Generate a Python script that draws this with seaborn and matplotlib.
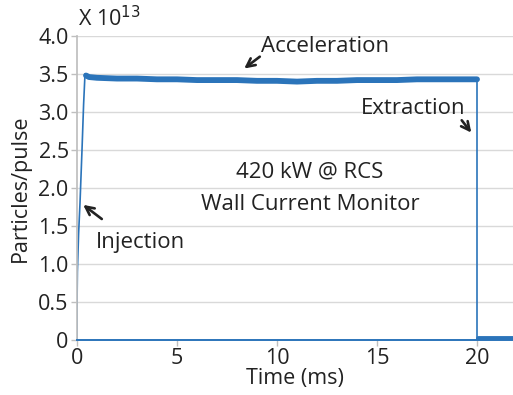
import matplotlib
matplotlib.use("Agg")
import matplotlib.pyplot as plt
import seaborn as sns
import pandas as pd

# ---- data (values in units of 1e13 particles/pulse) ----
trace_t = [0.0, 0.0, 0.02, 0.08, 0.15, 0.25, 0.33, 0.40, 0.45]
trace_v = [0.0, 0.43, 0.90, 1.40, 1.80, 2.50, 3.10, 3.50, 3.50]

plateau_t = [0.45, 0.6, 1.0, 2.0, 3.0, 4.0, 5.0, 6.0, 7.0, 8.0, 9.0, 10.0,
             11.0, 12.0, 13.0, 14.0, 15.0, 16.0, 17.0, 18.0, 19.0, 20.0]
plateau_v = [3.48, 3.46, 3.45, 3.44, 3.44, 3.43, 3.43, 3.42, 3.42, 3.42, 3.41, 3.41,
             3.40, 3.41, 3.41, 3.42, 3.42, 3.42, 3.43, 3.43, 3.43, 3.43]

drop_t = [20.0, 20.0]
drop_v = [3.43, 0.0]

tail_t = [20.05, 21.8]
tail_v = [0.03, 0.03]

xticks = [0, 5, 10, 15, 20]
yticks = [0, 0.5, 1.0, 1.5, 2.0, 2.5, 3.0, 3.5, 4.0]
ytick_labels = ["0", "0.5", "1.0", "1.5", "2.0", "2.5", "3.0", "3.5", "4.0"]

sns.set_theme(style="white")
plt.rcParams['font.family'] = ['Open Sans', 'DejaVu Sans']

fig = plt.figure(figsize=(5.13, 3.95), dpi=100)
ax = fig.add_axes([77/513, 1 - 340/395, (513 - 77)/513, (340 - 36)/395])

blue = "#2b74ba"
sns.lineplot(data=pd.DataFrame({"t": trace_t, "v": trace_v}), x="t", y="v", ax=ax,
             color=blue, lw=1.2, sort=False, estimator=None)
sns.lineplot(data=pd.DataFrame({"t": plateau_t, "v": plateau_v}), x="t", y="v", ax=ax,
             color=blue, lw=4.2, sort=False, estimator=None)
sns.lineplot(data=pd.DataFrame({"t": drop_t, "v": drop_v}), x="t", y="v", ax=ax,
             color=blue, lw=1.2, sort=False, estimator=None)
sns.lineplot(data=pd.DataFrame({"t": tail_t, "v": tail_v}), x="t", y="v", ax=ax,
             color=blue, lw=3.5, sort=False, estimator=None)

ax.set_xlim(0, 21.8)
ax.set_ylim(0, 4.0)
ax.set_xticks(xticks)
ax.set_yticks(yticks)
ax.set_yticklabels(ytick_labels)
ax.yaxis.grid(True, color="#d9d9d9", lw=1)
ax.xaxis.grid(False)
for s in ["top", "right"]:
    ax.spines[s].set_visible(False)
ax.spines["left"].set_color("#bfbfbf")
ax.spines["bottom"].set_color(blue)
ax.spines["bottom"].set_linewidth(1.4)
ax.tick_params(axis="both", which="both", labelsize=15.5, colors="#bfbfbf",
               labelcolor="#222222", length=4, width=1, direction="out",
               bottom=True, left=True, pad=2)
ax.set_xlabel("Time (ms)", fontsize=15.5, color="#222222", labelpad=-1)
ax.set_ylabel("Particles/pulse", fontsize=15.5, color="#222222", labelpad=5)

fig.text(78/513, 1 - 19/395, r"X 10$^{13}$", fontsize=15.5, color="#222222",
         ha="left", va="center")

tc = "#222222"
fs = 16
akw = dict(arrowstyle="->", color="#222222", lw=1.9, mutation_scale=15)
ax.annotate("", xy=(8.25, 3.55), xytext=(9.25, 3.75), arrowprops=akw)
ax.text(12.4, 3.86, "Acceleration", fontsize=fs, color=tc, ha="center", va="center")
ax.text(16.8, 3.05, "Extraction", fontsize=fs, color=tc, ha="center", va="center")
ax.annotate("", xy=(19.8, 2.7), xytext=(19.15, 2.92), arrowprops=akw)
ax.annotate("", xy=(0.2, 1.8), xytext=(1.35, 1.57), arrowprops=akw)
ax.text(3.15, 1.28, "Injection", fontsize=fs, color=tc, ha="center", va="center")
ax.text(11.65, 2.21, "420 kW @ RCS", fontsize=fs, color=tc, ha="center", va="center")
ax.text(11.65, 1.78, "Wall Current Monitor", fontsize=fs, color=tc, ha="center", va="center")

fig.savefig("out.png", dpi=100)
